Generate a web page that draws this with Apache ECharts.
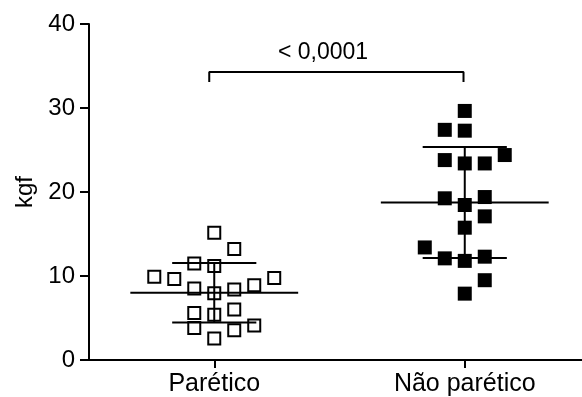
<!DOCTYPE html>
<html>
<head>
<meta charset="utf-8">
<script src="https://cdn.jsdelivr.net/npm/echarts@6/dist/echarts.min.js"></script>
<style>
html,body{margin:0;padding:0;background:#fff;}
#c{width:582px;height:397px;}
</style>
</head>
<body>
<div id="c"></div>
<script>
const categories = ['Parético', 'Não parético'];
const yTicks = [0, 10, 20, 30, 40];
const pareticoValues = [15.15, 13.2, 11.5, 11.2, 9.9, 9.65, 9.75, 8.9, 8.5, 8.4, 7.95, 5.6, 5.4, 6.0, 3.8, 3.55, 4.1, 2.55];
const pareticoSlots  = [0, 1, -1, 0, -3, -2, 3, 2, -1, 1, 0, -1, 0, 1, -1, 1, 2, 0];
const naoValues = [29.65, 27.4, 27.3, 24.4, 23.8, 23.4, 23.4, 19.25, 19.4, 18.45, 17.1, 15.75, 13.4, 12.1, 11.8, 12.3, 9.5, 7.9];
const naoSlots  = [0, -1, 0, 2, -1, 0, 1, -1, 1, 0, 1, 0, -2, -1, 0, 1, 1, 0];
const means = [8.0, 18.75];
const sds = [3.55, 6.6];
const pLabel = '< 0,0001';
const bracketY = [33.1, 34.3];

const SLOT = 0.0798;
const MEAN_HALF = 0.335;
const SD_HALF = 0.168;
const FONT = 'Liberation Sans, Arial, sans-serif';

function pts(values, slots, cat) {
  return values.map((v, i) => [cat + slots[i] * SLOT, v]);
}
function statLines(ci) {
  const cx = ci + 1, m = means[ci], s = sds[ci];
  return [
    [[cx - MEAN_HALF, m], [cx + MEAN_HALF, m]],
    [[cx - SD_HALF, m + s], [cx + SD_HALF, m + s]],
    [[cx - SD_HALF, m - s], [cx + SD_HALF, m - s]],
    [[cx, m - s], [cx, m + s]]
  ];
}
const lineSeries = [];
[0, 1].forEach(ci => {
  statLines(ci).forEach(seg => {
    lineSeries.push({
      type: 'line', data: seg, symbol: 'none', z: 5, silent: true, animation: false,
      lineStyle: { color: '#000', width: 2, opacity: 1 }
    });
  });
});
// bracket
lineSeries.push({
  type: 'line', symbol: 'none', z: 5, animation: false, silent: true,
  data: [[0.98, bracketY[0]], [0.98, bracketY[1]], [1.995, bracketY[1]], [1.995, bracketY[0]]],
  lineStyle: { color: '#000', width: 2, opacity: 1 }
});

const chart = echarts.init(document.getElementById('c'));
chart.setOption({
  animation: false,
  grid: { left: 89, right: 0, top: 24, bottom: 37, containLabel: false },
  xAxis: {
    type: 'value', min: 0.5, max: 2.468,
    splitLine: { show: false },
    axisLine: { show: true, onZero: false, lineStyle: { color: '#000', width: 2 } },
    axisTick: { show: true, customValues: [1, 2], length: 8, lineStyle: { color: '#000', width: 2 } },
    axisLabel: {
      show: true, customValues: [1, 2], margin: 12,
      formatter: v => categories[Math.round(v) - 1] || '',
      color: '#000', fontSize: 25, fontFamily: FONT
    }
  },
  yAxis: {
    type: 'value', min: 0, max: 40, interval: 10,
    name: 'kgf', nameLocation: 'middle', nameGap: 52,
    nameTextStyle: { color: '#000', fontSize: 24, fontFamily: FONT },
    splitLine: { show: false },
    axisLine: { show: true, lineStyle: { color: '#000', width: 2 } },
    axisTick: { show: true, length: 9, lineStyle: { color: '#000', width: 2 } },
    axisLabel: {
      margin: 14, color: '#000', fontSize: 24, fontFamily: FONT,
      formatter: v => yTicks.includes(v) ? String(v) : ''
    }
  },
  series: [
    {
      type: 'scatter', symbol: 'rect', symbolSize: 12, z: 3,
      data: pts(pareticoValues, pareticoSlots, 1),
      itemStyle: { color: 'rgba(0,0,0,0)', borderColor: '#000', borderWidth: 2, opacity: 1 }
    },
    {
      type: 'scatter', symbol: 'rect', symbolSize: 14, z: 3,
      data: pts(naoValues, naoSlots, 2),
      itemStyle: { color: '#000', opacity: 1 }
    },
    ...lineSeries,
    {
      type: 'scatter', symbolSize: 0, silent: true,
      data: [[1.434, 36.6]],
      itemStyle: { opacity: 1 },
      label: {
        show: true, position: 'inside', formatter: pLabel,
        color: '#000', fontSize: 23, fontFamily: FONT
      }
    }
  ]
});
</script>
</body>
</html>
